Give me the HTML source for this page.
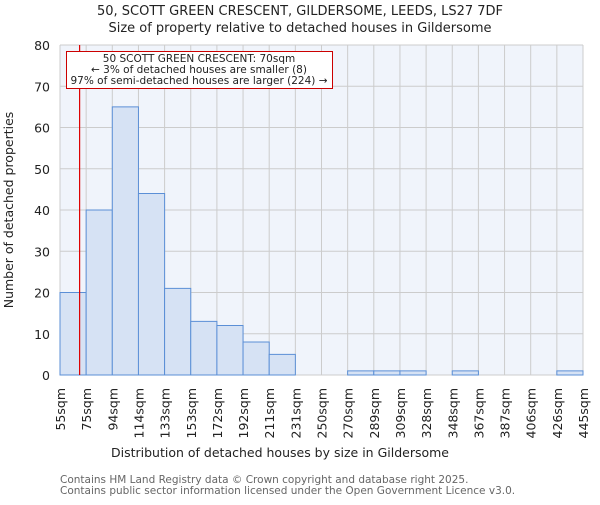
<!DOCTYPE html>
<html><head><meta charset="utf-8"><style>body{margin:0;background:#fff}svg text{font-family:"DejaVu Sans","Liberation Sans",sans-serif}</style></head>
<body>
<svg width="600" height="500" xmlns="http://www.w3.org/2000/svg" id="chart">
<text x="300" y="15" text-anchor="middle" font-size="13" fill="#222">50, SCOTT GREEN CRESCENT, GILDERSOME, LEEDS, LS27 7DF</text>
<text x="300" y="32" text-anchor="middle" font-size="13" fill="#222">Size of property relative to detached houses in Gildersome</text>
<rect x="60" y="45" width="523" height="330" fill="#f0f4fb"/>
<g id="grid"></g><g id="bars"></g><g id="yt"></g><g id="xt"></g>
<line id="marker" y1="45" y2="375" stroke="#dd0000" stroke-width="1.2"/>
<g>
<rect x="66.5" y="51.5" width="266" height="37" fill="#fff" stroke="#cc0000"/>
<text x="199" y="62" text-anchor="middle" font-size="10.5" fill="#222">50 SCOTT GREEN CRESCENT: 70sqm</text>
<text x="199" y="73" text-anchor="middle" font-size="10.5" fill="#222">← 3% of detached houses are smaller (8)</text>
<text x="199" y="84" text-anchor="middle" font-size="10.5" fill="#222">97% of semi-detached houses are larger (224) →</text>
</g>
<text x="280" y="457" text-anchor="middle" font-size="12.5" fill="#222">Distribution of detached houses by size in Gildersome</text>
<text transform="translate(13,210) rotate(-90)" text-anchor="middle" font-size="12.5" fill="#222">Number of detached properties</text>
<text x="60" y="483" font-size="10.5" fill="#666">Contains HM Land Registry data © Crown copyright and database right 2025.</text>
<text x="60" y="494" font-size="10.5" fill="#666">Contains public sector information licensed under the Open Government Licence v3.0.</text>
</svg>
<script>
const binLabels=["55sqm","75sqm","94sqm","114sqm","133sqm","153sqm","172sqm","192sqm","211sqm","231sqm","250sqm","270sqm","289sqm","309sqm","328sqm","348sqm","367sqm","387sqm","406sqm","426sqm","445sqm"];
const counts=[20,40,65,44,21,13,12,8,5,0,0,1,1,1,0,1,0,0,0,1];
const yTicks=[0,10,20,30,40,50,60,70,80];
const markerIndex=(70-55)/(75-55);
const X0=60,X1=583,Y0=375,Y1=45,YMAX=80;
const bw=(X1-X0)/counts.length;
const xs=i=>X0+i*bw, ys=v=>Y0-(v/YMAX)*(Y0-Y1);
const NS="http://www.w3.org/2000/svg";
function mk(t,a,p){const e=document.createElementNS(NS,t);for(const k in a)e.setAttribute(k,a[k]);document.getElementById(p).appendChild(e);return e;}
yTicks.forEach(v=>{
 const l=mk('line',{x1:X0,x2:X1,y1:ys(v),y2:ys(v),stroke:'#cccccc'},'grid');
 
 
 const t=mk('text',{x:X0-10,y:ys(v)+5,'text-anchor':'end','font-size':'12.5',fill:'#222'},'yt');
 t.textContent=v;
 
 
});
binLabels.forEach((s,i)=>{
 const l=mk('line',{x1:xs(i),x2:xs(i),y1:Y1,y2:Y0,stroke:'#cccccc'},'grid');
 
 
 const t=mk('text',{transform:`translate(${xs(i)+5},${Y0+13}) rotate(-90)`,'text-anchor':'end','font-size':'12.5',fill:'#222'},'xt');
 t.textContent=s;
 
 
});
counts.forEach((c,i)=>{
 if(c<=0)return;
 const r=mk('rect',{x:xs(i),y:ys(c),width:bw,height:Y0-ys(c),fill:'#d6e2f4',stroke:'#5b8fd6','stroke-width':1},'bars');
 
 
});
const m=document.getElementById('marker');m.setAttribute('x1',xs(markerIndex));m.setAttribute('x2',xs(markerIndex));
</script>
</body></html>
